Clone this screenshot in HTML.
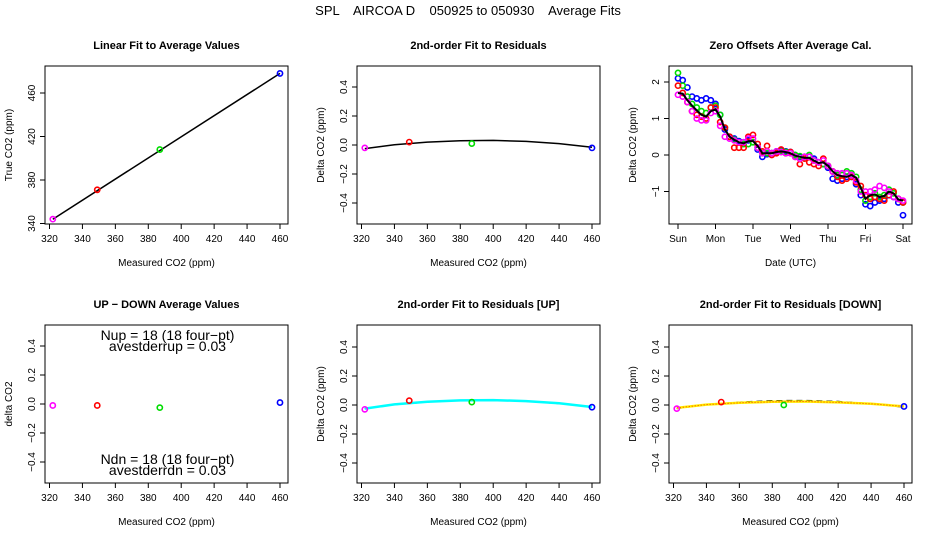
<!DOCTYPE html>
<html><head><meta charset="utf-8"><style>
body{margin:0;background:#fff}
svg{display:block;font-family:"Liberation Sans",sans-serif}
</style></head><body>
<svg id="c" width="936" height="540" xmlns="http://www.w3.org/2000/svg">
<text x="468" y="15" font-size="13" text-anchor="middle" style="white-space:pre" xml:space="preserve">SPL    AIRCOA D    050925 to 050930    Average Fits</text>
</svg>
<script>
// ---- data ----
const calX = [322, 349, 387, 460];
const calColors = ['#ff00ff', '#ff0000', '#00dd00', '#0000ff'];
const trueY = [344, 371, 408, 478];
const resid = [-0.02, 0.02, 0.01, -0.02];
const residUp = [-0.03, 0.03, 0.02, -0.015];
const residDn = [-0.025, 0.02, 0.0, -0.01];
const updown = [-0.01, -0.01, -0.025, 0.01];
const fitX = [322, 340, 360, 380, 400, 420, 440, 460];
const fitY = [-0.025, 0.002, 0.02, 0.03, 0.032, 0.025, 0.01, -0.015];
const fitUpY = [-0.025, 0.004, 0.022, 0.032, 0.034, 0.027, 0.012, -0.014];
const fitDnY = [-0.02, 0.003, 0.015, 0.022, 0.024, 0.018, 0.008, -0.01];
const xTicks = [320, 340, 360, 380, 400, 420, 440, 460];
const trueTicks = [340, 380, 420, 460];
const residTicks = [-0.4, -0.2, 0.0, 0.2, 0.4];
const dayLabels = ['Sun', 'Mon', 'Tue', 'Wed', 'Thu', 'Fri', 'Sat'];
const zeroTicks = [-1, 0, 1, 2];
const tsBlack = [1.70,1.68,1.50,1.35,1.22,1.10,1.05,1.20,1.25,1.05,0.70,0.50,0.42,0.35,0.32,0.38,0.38,0.25,0.05,0.05,0.05,0.08,0.10,0.08,0.05,-0.02,-0.05,-0.08,-0.08,-0.15,-0.22,-0.20,-0.30,-0.45,-0.55,-0.58,-0.60,-0.55,-0.62,-0.90,-1.20,-1.10,-1.08,-1.15,-1.12,-1.00,-1.05,-1.22,-1.25];
const tsBlue = [2.1,2.05,1.85,1.6,1.55,1.5,1.55,1.5,1.4,1.1,0.7,0.5,0.45,0.38,0.35,0.4,0.35,0.15,-0.05,0.02,0.05,0.1,0.12,0.1,0.08,0.0,-0.05,-0.05,-0.05,-0.1,-0.2,-0.25,-0.35,-0.65,-0.7,-0.65,-0.6,-0.6,-0.8,-1.1,-1.35,-1.4,-1.3,-1.25,-1.2,-1.1,-1.15,-1.3,-1.65];
const tsGreen = [2.25,1.9,1.6,1.4,1.3,1.2,1.15,1.3,1.35,1.1,0.75,0.5,0.42,0.35,0.3,0.3,0.35,0.2,0.05,0.05,0.05,0.08,0.1,0.08,0.05,0.0,-0.03,-0.05,0.0,-0.15,-0.2,-0.25,-0.3,-0.45,-0.55,-0.55,-0.45,-0.5,-0.6,-0.95,-1.25,-1.15,-1.05,-1.15,-1.1,-0.95,-1.05,-1.2,-1.3];
const tsRed = [1.9,1.7,1.45,1.2,1.1,1.05,1.0,1.3,1.3,0.9,0.75,0.5,0.2,0.2,0.2,0.5,0.55,0.3,0.1,0.25,0.0,0.05,0.15,0.05,0.08,-0.05,-0.25,-0.1,-0.2,-0.25,-0.3,-0.1,-0.3,-0.45,-0.6,-0.7,-0.65,-0.6,-0.75,-0.85,-1.1,-1.2,-1.15,-1.2,-1.25,-1.1,-1.0,-1.2,-1.3];
const tsMagenta = [1.65,1.6,1.45,1.2,1.0,0.95,0.95,1.15,1.2,0.8,0.5,0.45,0.4,0.35,0.35,0.45,0.45,0.2,0.05,0.1,0.05,0.1,0.08,0.05,0.05,-0.05,-0.1,-0.05,-0.05,-0.15,-0.2,-0.15,-0.3,-0.45,-0.5,-0.5,-0.5,-0.55,-0.7,-1.0,-1.0,-1.0,-0.95,-0.85,-0.9,-1.0,-1.15,-1.2,-1.25];
const tsStep = 0.125;

const svg = document.getElementById('c');
const NS = 'http://www.w3.org/2000/svg';
function mk(tag, attrs, parent) {
  const e = document.createElementNS(NS, tag);
  for (const k in attrs) e.setAttribute(k, attrs[k]);
  (parent || svg).appendChild(e);
  return e;
}
function txt(x, y, s, size, extra, parent) {
  const t = mk('text', Object.assign({x: x, y: y, 'font-size': size, 'text-anchor': 'middle'}, extra || {}), parent);
  t.textContent = s;
  return t;
}
function lin(d0, d1, p0, p1) { return v => p0 + (v - d0) * (p1 - p0) / (d1 - d0); }

function panel(name, L, T, W, H, xs, ys, xt, xtl, yt, ytl, title, xlab, ylab) {
  const g = mk('g', {});
  
  
  const box = mk('rect', {x: L, y: T, width: W, height: H, fill: 'none', stroke: '#000', 'stroke-width': 1}, g);
  
  
  const t = txt(L + W / 2, T - 17, title, 11, {'font-weight': 'bold'}, g);
  
  
  const xa = mk('g', {}, g);
  
  
  xt.forEach((v, i) => {
    const x = xs(v);
    mk('line', {x1: x, x2: x, y1: T + H, y2: T + H + 5, stroke: '#000'}, xa);
    const l = txt(x, T + H + 18, xtl[i], 10, {}, xa);
    
    
  });
  const xl = txt(L + W / 2, T + H + 42, xlab, 10, {}, g);
  
  
  const ya = mk('g', {}, g);
  
  
  yt.forEach((v, i) => {
    const y = ys(v);
    mk('line', {x1: L - 5, x2: L, y1: y, y2: y, stroke: '#000'}, ya);
    const l = txt(L - 10, y, ytl[i], 10, {transform: 'rotate(-90 ' + (L - 10) + ' ' + y + ')'}, ya);
    
    
  });
  const yl = txt(L - 33, T + H / 2, ylab, 10, {transform: 'rotate(-90 ' + (L - 33) + ' ' + (T + H / 2) + ')'}, g);
  
  
  return g;
}
function pt(g, x, y, c, name) {
  const e = mk('circle', {cx: x, cy: y, r: 2.6, fill: 'none', stroke: c, 'stroke-width': 1.6}, g);
  
  
}
function poly(g, xsArr, ysArr, xs, ys, attrs, name) {
  const p = xsArr.map((v, i) => xs(v).toFixed(1) + ',' + ys(ysArr[i]).toFixed(1)).join(' ');
  const e = mk('polyline', Object.assign({points: p, fill: 'none'}, attrs), g);
  
  
}
const fmtR = v => v === 0 ? '0.0' : (v < 0 ? '\u2212' + Math.abs(v).toFixed(1) : v.toFixed(1));
const residTL = residTicks.map(fmtR);
const xTL = xTicks.map(String);

const cols = [45, 357, 669], rows = [66, 325], W = 243, H = 158;
function xsFor(L) { return lin(320, 460, L + 4.5, L + 235); }

// Panel 1
{
  const L = cols[0], T = rows[0];
  const xs = xsFor(L), ys = lin(340, 460, T + 157.5, T + 27);
  const g = panel('linear-fit-panel', L, T, W, H, xs, ys, xTicks, xTL, trueTicks, trueTicks.map(String), 'Linear Fit to Average Values', 'Measured CO2 (ppm)', 'True CO2 (ppm)');
  poly(g, [calX[0], calX[3]], [trueY[0], trueY[3]], xs, ys, {stroke: '#000', 'stroke-width': 1.5}, 'fit-line');
  calX.forEach((v, i) => pt(g, xs(v), ys(trueY[i]), calColors[i], 'cal-point'));
}
// Panel 2
{
  const L = cols[1], T = rows[0];
  const xs = xsFor(L), ys = lin(0, 0.4, T + 79, T + 21);
  const g = panel('residual-fit-panel', L, T, W, H, xs, ys, xTicks, xTL, residTicks, residTL, '2nd-order Fit to Residuals', 'Measured CO2 (ppm)', 'Delta CO2 (ppm)');
  poly(g, fitX, fitY, xs, ys, {stroke: '#000', 'stroke-width': 1.5}, 'fit-curve');
  calX.forEach((v, i) => pt(g, xs(v), ys(resid[i]), calColors[i], 'residual-point'));
}
// Panel 3
{
  const L = cols[2], T = rows[0];
  const xs = lin(0, 6, L + 9, L + 234), ys = lin(0, 1, T + 89, T + 52.5);
  const g = panel('zero-offsets-panel', L, T, W, H, xs, ys, [0,1,2,3,4,5,6], dayLabels, zeroTicks, zeroTicks.map(v => v < 0 ? '\u2212' + Math.abs(v) : String(v)), 'Zero Offsets After Average Cal.', 'Date (UTC)', 'Delta CO2 (ppm)');
  const series = [[tsBlue, '#0000ff'], [tsGreen, '#00dd00'], [tsRed, '#ff0000'], [tsMagenta, '#ff00ff']];
  series.forEach(([arr, c]) => {
    const sg = mk('g', {}, g);
    
    
    arr.forEach((v, i) => pt(sg, xs(i * tsStep), ys(v), c, 'offset-point'));
  });
  poly(g, tsBlack.map((v, i) => i * tsStep), tsBlack, xs, ys, {stroke: '#000', 'stroke-width': 2}, 'mean-offset-line');
}
// Panel 4
{
  const L = cols[0], T = rows[1];
  const xs = xsFor(L), ys = lin(0, 0.4, T + 79, T + 21);
  const g = panel('up-down-panel', L, T, W, H, xs, ys, xTicks, xTL, residTicks, residTL, 'UP \u2212 DOWN Average Values', 'Measured CO2 (ppm)', 'delta CO2');
  calX.forEach((v, i) => pt(g, xs(v), ys(updown[i]), calColors[i], 'updown-point'));
  const a = [['Nup = 18 (18 four\u2212pt)', T + 15], ['avestderrup =  0.03', T + 26], ['Ndn = 18 (18 four\u2212pt)', T + 139], ['avestderrdn =  0.03', T + 150]];
  a.forEach(([s, y]) => {
    const e = txt(L + W / 2 + 1, y, s, 14, {}, g);
    
    
  });
}
// Panel 5
{
  const L = cols[1], T = rows[1];
  const xs = xsFor(L), ys = lin(0, 0.4, T + 80, T + 22);
  const g = panel('residual-up-panel', L, T, W, H, xs, ys, xTicks, xTL, residTicks, residTL, '2nd-order Fit to Residuals [UP]', 'Measured CO2 (ppm)', 'Delta CO2 (ppm)');
  poly(g, fitX, fitY, xs, ys, {stroke: '#000', 'stroke-width': 1.2, 'stroke-dasharray': '6 4'}, 'overall-fit-curve');
  poly(g, fitX, fitUpY, xs, ys, {stroke: '#00ffff', 'stroke-width': 2.5}, 'up-fit-curve');
  calX.forEach((v, i) => pt(g, xs(v), ys(residUp[i]), calColors[i], 'residual-up-point'));
}
// Panel 6
{
  const L = cols[2], T = rows[1];
  const xs = xsFor(L), ys = lin(0, 0.4, T + 80, T + 22);
  const g = panel('residual-down-panel', L, T, W, H, xs, ys, xTicks, xTL, residTicks, residTL, '2nd-order Fit to Residuals [DOWN]', 'Measured CO2 (ppm)', 'Delta CO2 (ppm)');
  poly(g, fitX, fitY, xs, ys, {stroke: '#000', 'stroke-width': 1.2, 'stroke-dasharray': '6 4'}, 'overall-fit-curve');
  poly(g, fitX, fitDnY, xs, ys, {stroke: '#ffee00', 'stroke-width': 2.5}, 'down-fit-curve');
  poly(g, fitX, fitDnY, xs, ys, {stroke: '#ff3300', 'stroke-width': 1, 'stroke-dasharray': '1 2'}, 'down-fit-dots');
  calX.forEach((v, i) => pt(g, xs(v), ys(residDn[i]), calColors[i], 'residual-down-point'));
}
</script>
</body></html>
